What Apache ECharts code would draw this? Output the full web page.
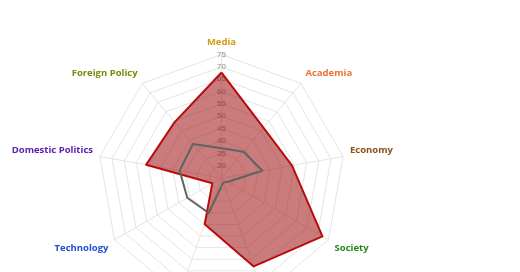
<!DOCTYPE html>
<html>
<head>
<meta charset="utf-8">
<script src="https://cdn.jsdelivr.net/npm/echarts@6/dist/echarts.min.js"></script>
<style>
html,body{margin:0;padding:0;background:#fff;}
#chart{width:520px;height:272px;}
</style>
</head>
<body>
<div id="chart"></div>
<script>
// Indicators in clockwise order starting at the top (the two bottom ones are cut off in the picture)
const categories = ['Media', 'Academia', 'Economy', 'Society', '', '', 'Technology', 'Domestic Politics', 'Foreign Policy'];
const categoryColors = ['#d39c10', '#f07030', '#8a4f12', '#1d8a1d', '#666', '#666', '#1f4fd4', '#5a22b0', '#788a08'];
const redValues  = [67.7, 51.5, 54.0, 72.2, 63.1, 44.9, 29.3, 56.0, 54.5];
const grayValues = [37.0, 38.9, 41.8, 28.0, 27.0, 40.1, 41.0, 42.2, 43.0];
const scaleMin = 25;
const scaleMax = 75;
const tickStep = 5;

// ECharts lays indicators counter-clockwise, so reverse everything after the first
function toCcw(arr) { return [arr[0]].concat(arr.slice(1).reverse()); }

const catsCcw = toCcw(categories);
const colsCcw = toCcw(categoryColors);
const redCcw = toCcw(redValues);
const grayCcw = toCcw(grayValues);

const upperNames = ['Academia', 'Economy', 'Domestic Politics', 'Foreign Policy'];
const lowerNames = ['Society', 'Technology'];

const indicator = catsCcw.map(function (name, i) {
  const ind = { name: name, min: scaleMin, max: scaleMax, color: colsCcw[i] };
  if (i === 0) {
    ind.axisLabel = {
      show: true,
      color: '#8c8c8c',
      fontSize: 8,
      fontFamily: 'Liberation Sans',
      align: 'center',
      verticalAlign: 'middle',
      margin: 0,
      showMinLabel: false,
      showMaxLabel: true
    };
  }
  return ind;
});

const chart = echarts.init(document.getElementById('chart'), null, { renderer: 'canvas' });
chart.setOption({
  animation: false,
  backgroundColor: '#ffffff',
  radar: {
    center: [221.5, 178],
    radius: 123.5,
    startAngle: 90,
    shape: 'polygon',
    splitNumber: (scaleMax - scaleMin) / tickStep,
    axisNameGap: 7,
    axisName: {
      fontFamily: 'Open Sans',
      fontWeight: 700,
      fontSize: 9.5,
      lineHeight: 10,
      formatter: function (name) {
        if (upperNames.indexOf(name) >= 0) return name + '\n ';
        if (lowerNames.indexOf(name) >= 0) return ' \n' + name;
        return name;
      }
    },
    indicator: indicator,
    axisLine: { show: true, lineStyle: { color: '#e4e4e4', width: 1 } },
    splitLine: { show: true, lineStyle: { color: '#e4e4e4', width: 1 } },
    splitArea: { show: false },
    axisTick: { show: false },
    axisLabel: { show: false }
  },
  series: [{
    type: 'radar',
    symbol: 'none',
    data: [
      {
        value: redCcw,
        lineStyle: { color: '#c40a0a', width: 2 },
        areaStyle: { color: 'rgba(160,20,20,0.56)', opacity: 1 }
      },
      {
        value: grayCcw,
        lineStyle: { color: '#5c6464', width: 2 }
      }
    ]
  }]
});
</script>
</body>
</html>
